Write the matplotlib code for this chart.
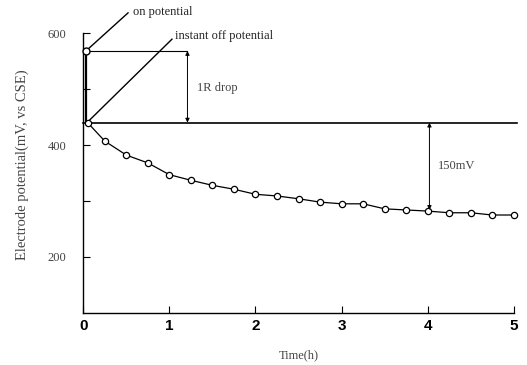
import matplotlib.pyplot as plt

# Potential decay after switching off the current
time_h = [0, 0.25, 0.5, 0.75, 1.0, 1.25, 1.5, 1.75, 2.0, 2.25, 2.5,
          2.75, 3.0, 3.25, 3.5, 3.75, 4.0, 4.25, 4.5, 4.75, 5.0]
potential_mv = [440, 407, 382, 368, 347, 337, 328, 321, 312, 309, 304,
                298, 295, 295, 286, 284, 282, 279, 279, 275, 275]
on_potential = 568
off_potential = 440
yticks = [200, 400, 600]
xticks = [0, 1, 2, 3, 4, 5]

serif = ['Liberation Serif', 'DejaVu Serif']
grey = '#444444'

fig = plt.figure(figsize=(5.27, 3.65), dpi=100)
ax = fig.add_axes([0.158, 0.1425, 0.817, 0.767])

# shift the off point a touch right of the axis, like the original drawing
t_plot = [0.05] + time_h[1:]
ax.plot(t_plot, potential_mv, color='black', lw=0.9, marker='o', ms=4.5,
        mfc='white', mec='black', mew=0.9, zorder=3, clip_on=False)
# on -> instant off jump
ax.plot([0.03, 0.03], [on_potential, off_potential], color='black', lw=1.6, zorder=2)
ax.plot([0.03], [on_potential], marker='o', ms=5, mfc='white', mec='black', mew=1.0,
        zorder=4, clip_on=False)

# reference lines
ax.plot([0, 1.21], [on_potential, on_potential], color='black', lw=0.8)
ax.plot([0, 5.04], [off_potential, off_potential], color='black', lw=1.2, clip_on=False)

# IR drop and 150mV arrows
ax.annotate('', xy=(1.21, off_potential), xytext=(1.21, on_potential),
            arrowprops=dict(arrowstyle='<|-|>', color='black', lw=0.7,
                            mutation_scale=6, shrinkA=0, shrinkB=0))
ax.annotate('', xy=(4.02, potential_mv[16] + 2), xytext=(4.02, off_potential),
            arrowprops=dict(arrowstyle='<|-|>', color='black', lw=0.7,
                            mutation_scale=6, shrinkA=0, shrinkB=0))
ax.text(1.32, 502, '1R drop', family=serif, fontsize=9, color=grey, va='center')
ax.text(4.12, 363, '150mV', family=serif, fontsize=9, color=grey, va='center')

# leader lines to labels
ax.plot([0.06, 0.52], [on_potential + 4, 636], color='black', lw=1.0, clip_on=False)
ax.text(0.575, 638, 'on potential', family=serif, fontsize=9, color='#222222',
        va='center')
ax.plot([0.07, 1.03], [off_potential + 4, 589], color='black', lw=1.0, clip_on=False)
ax.text(1.07, 594, 'instant off potential', family=serif, fontsize=9, color='#222222',
        va='center')

ax.set_xlim(0, 5)
ax.set_ylim(100, 600)
ax.spines['top'].set_visible(False)
ax.spines['right'].set_visible(False)
ax.spines['left'].set_linewidth(1.0)
ax.spines['bottom'].set_linewidth(1.0)

ax.set_xticks(xticks)
ax.set_xticklabels([str(t) for t in xticks], family=['Liberation Sans', 'DejaVu Sans'],
                   fontweight='bold', fontsize=11)
ax.set_yticks(yticks)
ax.set_yticklabels([str(t) for t in yticks], family=serif, fontsize=9, color=grey)
ax.set_yticks([300, 500], minor=True)
ax.tick_params(axis='both', which='both', direction='in', length=5, width=0.8)
ax.tick_params(axis='x', pad=4)
ax.tick_params(axis='y', pad=12)

ax.set_xlabel('Time(h)', family=serif, fontsize=9, color=grey, labelpad=12)
ax.set_ylabel('Electrode potential(mV, vs CSE)', family=serif, fontsize=10.5,
              color=grey, labelpad=15)
ax.yaxis.set_label_coords(-0.125, 0.53)

fig.savefig('out.png', dpi=100)
